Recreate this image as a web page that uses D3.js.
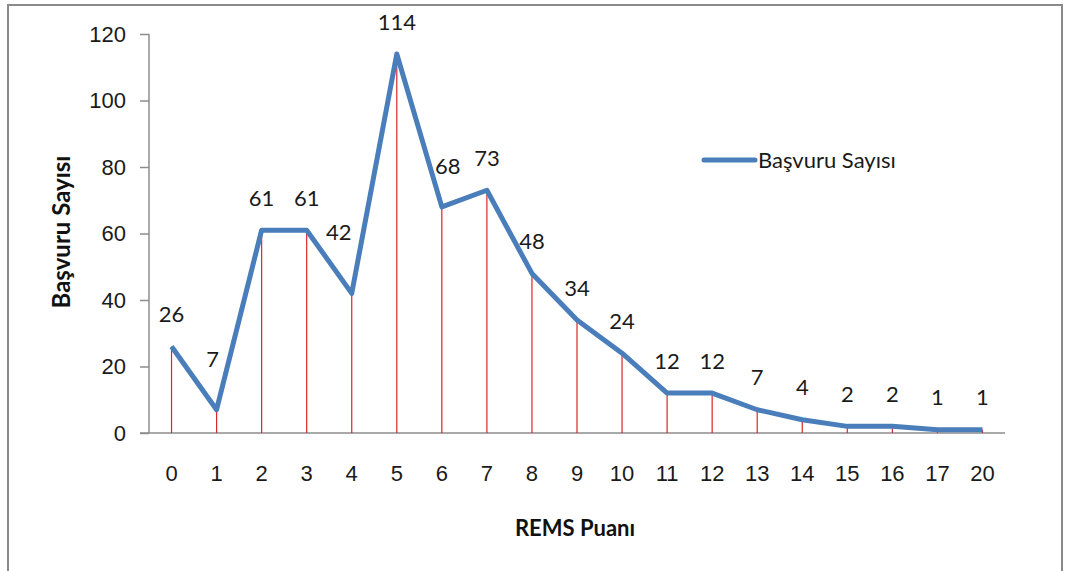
<!DOCTYPE html>
<html lang="tr">
<head>
    <meta charset="UTF-8">
    <title>REMS Puanı - Başvuru Sayısı</title>
    <script src="https://d3js.org/d3.v7.min.js"></script>
    <style>
        body { margin: 0; background: #fff; }
        svg { display: block; font-family: Lato, "Open Sans", sans-serif; }
        .axis path, .axis line { stroke: #8c8c8c; stroke-width: 1.5; }
        .axis text { font-size: 22px; fill: #1a1a1a; }
        .annotation { font-size: 22px; fill: #1a1a1a; }
        .title { font-weight: bold; fill: #111; }
        .legend-text { font-size: 22px; fill: #1a1a1a; }
    </style>
</head>
<body>
    <svg width="1065" height="571"></svg>

    <script>
        // REMS puanı kategorileri ve başvuru sayıları
        const categories = ["0", "1", "2", "3", "4", "5", "6", "7", "8", "9", "10", "11", "12", "13", "14", "15", "16", "17", "20"];
        const values = [26, 7, 61, 61, 42, 114, 68, 73, 48, 34, 24, 12, 12, 7, 4, 2, 2, 1, 1];
        const yTicks = [0, 20, 40, 60, 80, 100, 120];
        const seriesName = "Başvuru Sayısı";

        // some labels were moved by hand in the original
        const labelNudge = {"1": [-4, -18], "4": [-13, -29], "6": [6, -9]};

        const data = categories.map((c, i) => ({category: c, value: values[i]}));

        const svg = d3.select("svg"),
            margin = {top: 34, right: 60, bottom: 138, left: 149},
            width = +svg.attr("width") - margin.left - margin.right,
            height = +svg.attr("height") - margin.top - margin.bottom;

        // outer frame
        svg.append("rect")
            .attr("x", 8).attr("y", 5)
            .attr("width", 1054).attr("height", 580)
            .attr("fill", "none")
            .attr("stroke", "#8a8a8a")
            .attr("stroke-width", 2);

        const g = svg.append("g").attr("transform", `translate(${margin.left},${margin.top})`);

        const x = d3.scaleBand()
            .domain(categories)
            .range([0, width]);

        const y = d3.scaleLinear()
            .domain([0, 120])
            .range([height, 0]);

        const cx = d => x(d.category) + x.bandwidth() / 2;

        // y axis
        const yAxis = g.append("g")
            .attr("class", "axis")
            .call(d3.axisLeft(y).tickValues(yTicks).tickSize(9).tickPadding(14).tickSizeOuter(0));
        yAxis.select(".domain").attr("d", `M0,${height}V0`);

        // x axis
        const xAxis = g.append("g")
            .attr("class", "axis")
            .attr("transform", `translate(0,${height})`)
            .call(d3.axisBottom(x).tickSize(0).tickPadding(32));
        xAxis.select(".domain").attr("d", `M-9,0H${width}`);

        // red drop lines
        g.selectAll(".drop")
            .data(data)
            .enter().append("line")
            .attr("class", "drop")
            .attr("x1", cx).attr("x2", cx)
            .attr("y1", d => y(d.value))
            .attr("y2", height)
            .attr("stroke", "#d9262b")
            .attr("stroke-width", 1.2);

        const line = d3.line()
            .x(cx)
            .y(d => y(d.value));

        g.append("path")
            .datum(data)
            .attr("d", line)
            .attr("fill", "none")
            .attr("stroke", "#4a7ebb")
            .attr("stroke-width", 5)
            .attr("stroke-linejoin", "round");

        // value labels
        g.selectAll(".annotation")
            .data(data)
            .enter().append("text")
            .attr("class", "annotation")
            .attr("text-anchor", "middle")
            .attr("dy", "0.35em")
            .attr("x", d => cx(d) + (labelNudge[d.category] ? labelNudge[d.category][0] : 0))
            .attr("y", d => y(d.value) - 32 + (labelNudge[d.category] ? labelNudge[d.category][1] : 0))
            .text(d => d.value);

        // axis titles
        svg.append("text")
            .attr("class", "title")
            .style("font-size", "24px")
            .attr("transform", "translate(62,232) rotate(-90)")
            .attr("text-anchor", "middle")
            .attr("dy", "0.35em")
            .text("Başvuru Sayısı");

        svg.append("text")
            .attr("class", "title")
            .style("font-size", "22px")
            .attr("x", 575).attr("y", 528)
            .attr("text-anchor", "middle")
            .attr("dy", "0.35em")
            .text("REMS Puanı");

        // legend
        const legend = svg.append("g").attr("transform", "translate(704,160)");
        legend.append("line")
            .attr("x1", 0).attr("x2", 51)
            .attr("stroke", "#4a7ebb")
            .attr("stroke-width", 5)
            .attr("stroke-linecap", "round");
        legend.append("text")
            .attr("class", "legend-text")
            .attr("x", 54)
            .attr("dy", "0.35em")
            .text(seriesName);
    </script>
</body>
</html>
